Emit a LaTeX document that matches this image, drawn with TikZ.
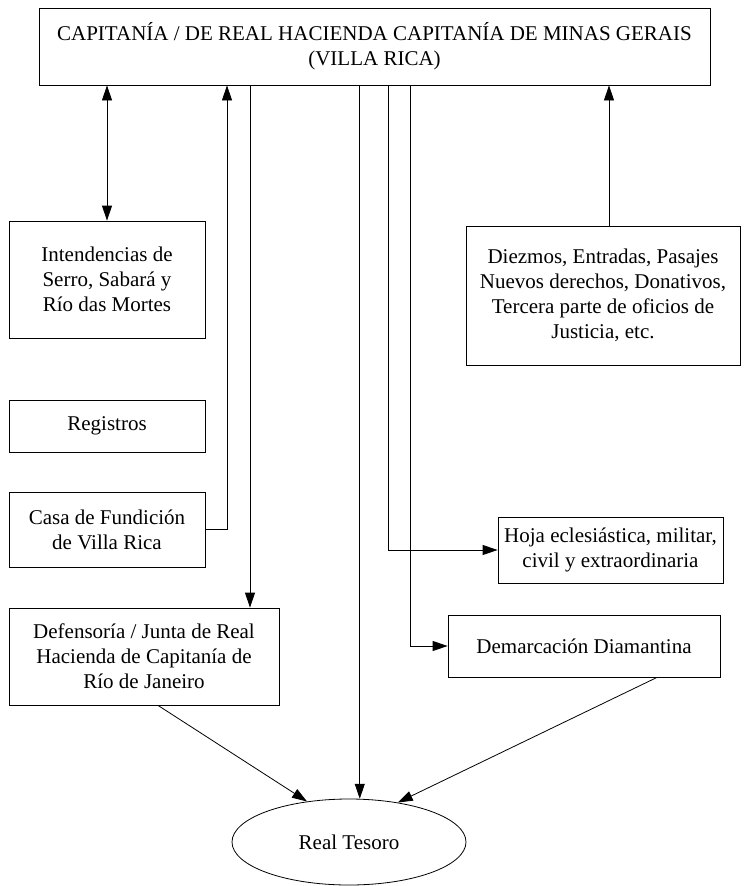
\documentclass[tikz,border=0pt]{standalone}
\usepackage{fontspec}
\setmainfont{Liberation Serif}
\usetikzlibrary{arrows.meta,shapes.geometric}
\begin{document}
\begin{tikzpicture}[x=1pt,y=-1pt,
  box/.style={draw,line width=0.8pt,align=center,inner sep=2pt,font=\fontsize{21}{25}\selectfont},
  conn/.style={line width=0.8pt},
  arr/.style={conn,-{Triangle[length=15pt,width=10pt]}},
  darr/.style={conn,{Triangle[length=15pt,width=10pt]}-{Triangle[length=15pt,width=10pt]}}]
\useasboundingbox (0,0) rectangle (751,886);
\node[box,minimum width=671pt,minimum height=77pt] (top) at (374.5,46.5)
  {CAPITANÍA / DE REAL HACIENDA CAPITANÍA DE MINAS GERAIS\\(VILLA RICA)};
\node[box,minimum width=196pt,minimum height=117pt] (int) at (107,279.5)
  {Intendencias de\\Serro, Sabará y\\Río das Mortes};
\node[box,minimum width=196pt,minimum height=52pt] (reg) at (107,426) {Registros};
\node[box,minimum width=196pt,minimum height=75pt] (casa) at (107,529.5)
  {Casa de Fundición\\de Villa Rica};
\node[box,minimum width=270pt,minimum height=97pt] (def) at (144,656.5)
  {Defensoría / Junta de Real\\Hacienda de Capitanía de\\Río de Janeiro};
\node[box,minimum width=274pt,minimum height=139pt] (diez) at (603,295.5)
  {Diezmos, Entradas, Pasajes\\Nuevos derechos, Donativos,\\Tercera parte de oficios de\\Justicia, etc.};
\node[box,minimum width=225pt,minimum height=66pt] (hoja) at (610.5,550)
  {Hoja eclesiástica, militar,\\civil y extraordinaria};
\node[box,minimum width=272pt,minimum height=62pt] (dem) at (584,646)
  {Demarcación Diamantina};
\node[box,ellipse,minimum width=234pt,minimum height=86pt,inner sep=0pt] (ell) at (349,842)
  {Real Tesoro};
% connectors
\draw[darr] (int.north |- top.south) -- (int.north);
\coordinate (cx) at (227,0);
\draw[arr] (casa.east) -- (casa.east -| cx) -- (cx |- top.south);
\coordinate (dx) at (250,0);
\draw[arr] (dx |- top.south) -- (dx |- def.north);
\draw[arr] (ell.76 |- top.south) -- (ell.76);
\coordinate (hx) at (388,0);
\draw[arr] (hx |- top.south) -- (hx |- hoja.west) -- (hoja.west);
\coordinate (mx) at (410,0);
\draw[arr] (mx |- top.south) -- (mx |- dem.west) -- (dem.west);
\coordinate (zx) at (609,0);
\draw[arr] (zx |- diez.north) -- (zx |- top.south);
\coordinate (ds) at (158,0);
\draw[arr] (ds |- def.south) -- (ell.136);
\coordinate (ms) at (657,0);
\draw[arr] (ms |- dem.south) -- (ell.39);
\end{tikzpicture}
\end{document}
